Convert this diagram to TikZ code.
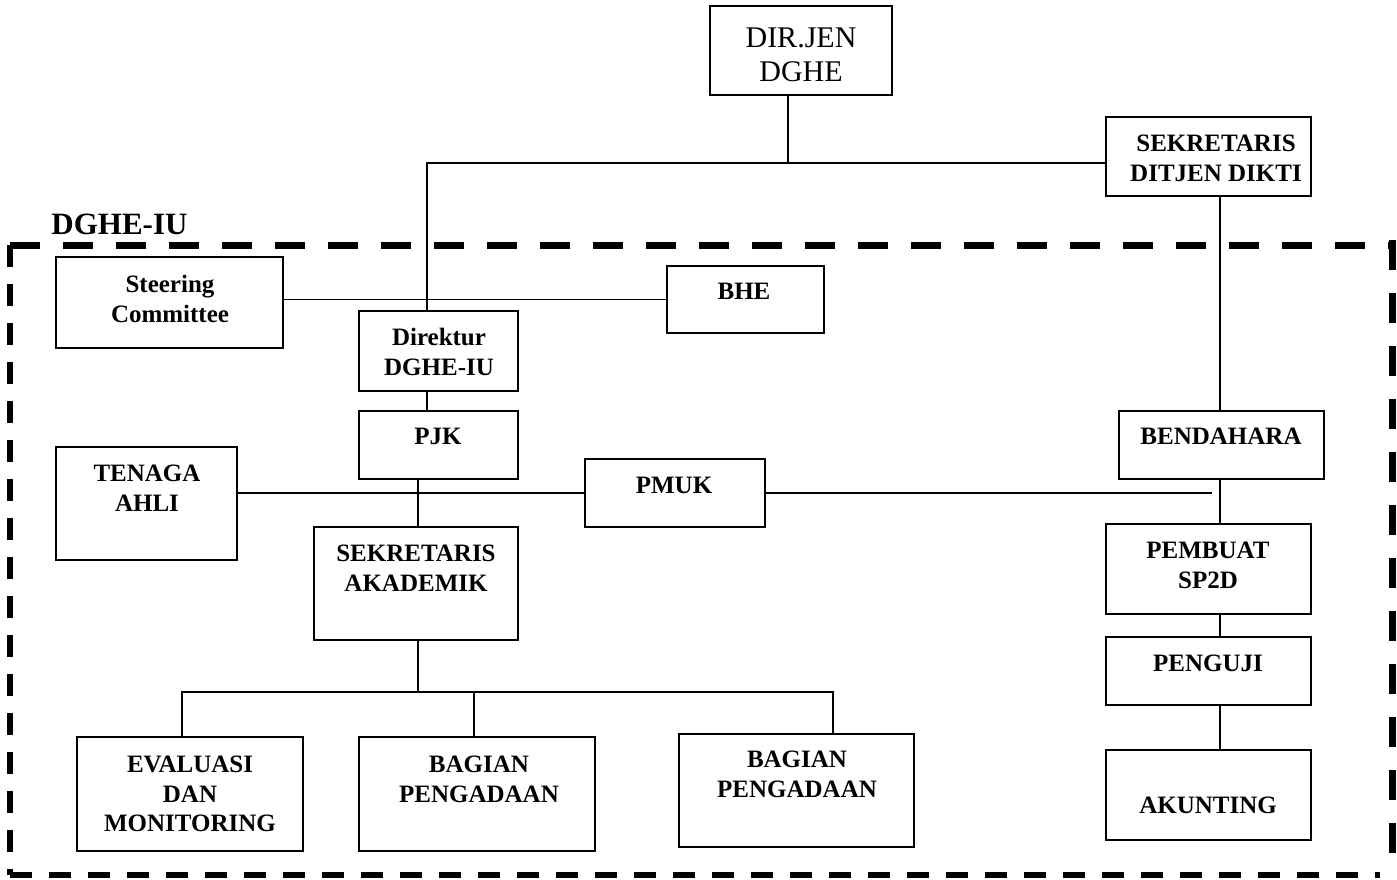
\documentclass[tikz,border=0pt]{standalone}
\usepackage{fontspec}
\setmainfont{Liberation Serif}
\usetikzlibrary{fit}

\begin{document}
\begin{tikzpicture}[
  x=0.5pt, y=-0.5pt,
  unit/.style={draw, line width=0.8pt, inner sep=0pt},
  caption/.style={anchor=north, inner sep=0pt, align=center,
    font=\fontsize{12.5}{14.75}\selectfont\bfseries},
  link/.style={line width=0.7pt},
  frameA/.style={line width=3.5pt, dash pattern=on 15pt off 11.5pt},
  frameB/.style={line width=3.2pt, dash pattern=on 11pt off 8.5pt}
]
  \useasboundingbox (0,0) rectangle (1397,879);

  % Outer dashed frame of the unit
  \coordinate (fNW) at (10,245);
  \coordinate (fNE) at (1392,245);
  \coordinate (fSE) at (1392,875);
  \coordinate (fSW) at (10,875);
  \draw[frameA] (fNW) -- (fNE);
  \draw[frameA] (1392,240) -- (fSE);
  \draw[frameB] (fNW) -- (fSW);
  \draw[frameB] (fSW) -- (1380,875);
  \node[anchor=north west, inner sep=0pt,
    font=\fontsize{15.5}{18}\selectfont\bfseries] (unitname) at (51,214) {DGHE-IU};

  % Top level
  \node[unit, fit={(710,6) (892,95)}] (dirjen) {};
  \node[anchor=north, inner sep=0pt, align=center,
    font=\fontsize{15}{17}\selectfont] (dirjenT) at (801,27) {DIR.JEN\\DGHE};
  \node[unit, fit={(1106,117) (1311,196)}] (sekdit) {};
  \node[caption] (sekditT) at (1216,135) {SEKRETARIS\\DITJEN DIKTI};

  % Board level
  \node[unit, fit={(56,257) (283,348)}] (steer) {};
  \node[caption] (steerT) at (170,275) {Steering\\Committee};
  \node[unit, fit={(667,266) (824,333)}] (bhe) {};
  \node[caption] (bheT) at (744,283) {BHE};
  \node[unit, fit={(359,311) (518,391)}] (direk) {};
  \node[caption] (direkT) at (439,328) {Direktur\\DGHE-IU};

  % Management level
  \node[unit, fit={(359,411) (518,479)}] (pjk) {};
  \node[caption] (pjkT) at (438,428) {PJK};
  \node[unit, fit={(1119,411) (1324,479)}] (bend) {};
  \node[caption] (bendT) at (1221,428) {BENDAHARA};
  \node[unit, fit={(56,447) (237,560)}] (tenaga) {};
  \node[caption] (tenagaT) at (147,465) {TENAGA\\AHLI};
  \node[unit, fit={(585,459) (765,527)}] (pmuk) {};
  \node[caption] (pmukT) at (674,477) {PMUK};
  \node[unit, fit={(314,527) (518,640)}] (sekak) {};
  \node[caption] (sekakT) at (416,545) {SEKRETARIS\\AKADEMIK};

  % Finance column
  \node[unit, fit={(1106,524) (1311,614)}] (pembuat) {};
  \node[caption] (pembuatT) at (1208,542) {PEMBUAT\\SP2D};
  \node[unit, fit={(1106,637) (1311,705)}] (penguji) {};
  \node[caption] (pengujiT) at (1208,655) {PENGUJI};
  \node[unit, fit={(1106,750) (1311,840)}] (akun) {};
  \node[caption] (akunT) at (1208,797) {AKUNTING};

  % Academic sections
  \node[unit, fit={(77,737) (303,851)}] (eval) {};
  \node[caption] (evalT) at (190,756) {EVALUASI\\DAN\\MONITORING};
  \node[unit, fit={(359,737) (595,851)}] (bagA) {};
  \node[caption] (bagAT) at (479,756) {BAGIAN\\PENGADAAN};
  \node[unit, fit={(679,734) (914,847)}] (bagB) {};
  \node[caption] (bagBT) at (797,751) {BAGIAN\\PENGADAAN};

  % Junctions
  \coordinate (topj) at (788,163);
  \coordinate (dirx) at (427,163);
  \coordinate (akx) at (418,692);
  \coordinate (evx) at (182,692);
  \coordinate (bgax) at (474,692);
  \coordinate (bgbx) at (833,692);
  \coordinate (finx) at (1220,163);
  \coordinate (pmukend) at (1212,493);

  % Lines
  \draw[link] (topj |- dirjen.south) -- (topj);
  \draw[link] (sekdit.west |- dirx) -- (dirx) -- (dirx |- direk.north);
  \draw[link] (bhe.west -| steer.east) -- (bhe.west);
  \draw[link] (dirx |- direk.south) -- (dirx |- pjk.north);
  \draw[link] (akx |- pjk.south) -- (akx |- sekak.north);
  \draw[link] (pmuk.west -| tenaga.east) -- (pmuk.west);
  \draw[link] (pmuk.east) -- (pmukend);
  \draw[link] (akx |- sekak.south) -- (akx);
  \draw[link] (evx |- eval.north) -- (evx) -- (bgbx) -- (bgbx |- bagB.north);
  \draw[link] (bgax) -- (bgax |- bagA.north);
  \draw[link] (finx |- sekdit.south) -- (finx |- bend.north);
  \draw[link] (finx |- bend.south) -- (finx |- pembuat.north);
  \draw[link] (finx |- pembuat.south) -- (finx |- penguji.north);
  \draw[link] (finx |- penguji.south) -- (finx |- akun.north);
\end{tikzpicture}
\end{document}
